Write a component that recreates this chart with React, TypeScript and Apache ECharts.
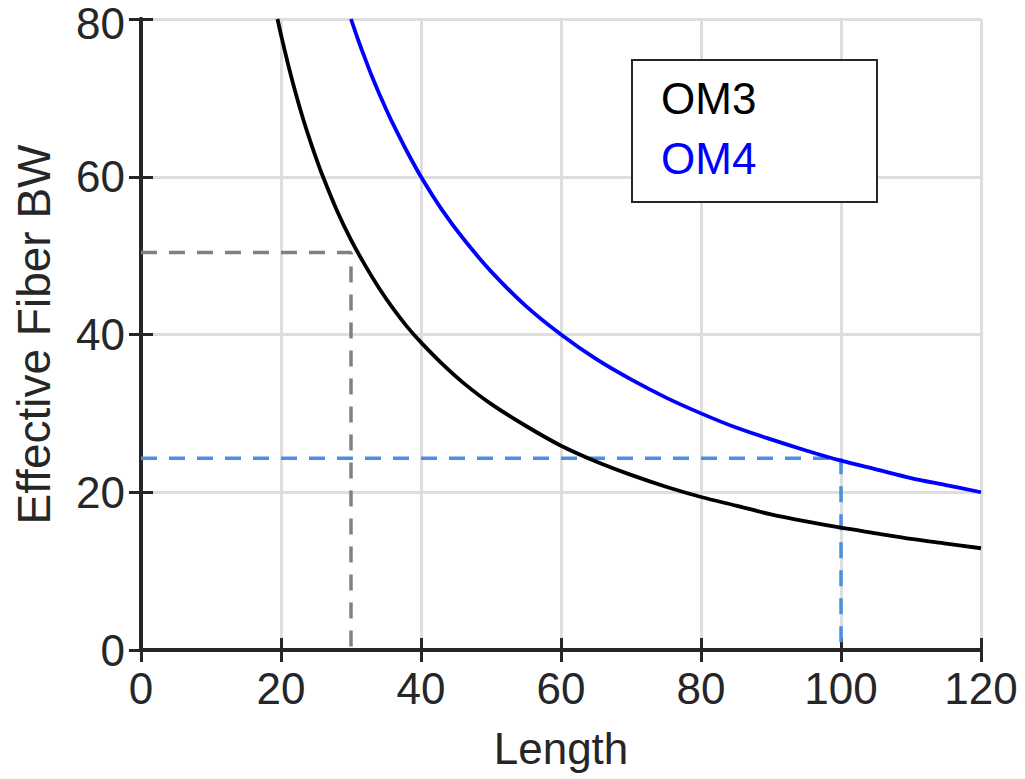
import React, { useEffect, useRef } from "react";
import * as echarts from "echarts";

const xTicks = [0, 20, 40, 60, 80, 100, 120];
const yTicks = [0, 20, 40, 60, 80];

const om3X = [19.5, 20, 21, 22, 23, 24, 25, 26, 28, 30, 32, 34, 36, 38, 40, 43, 46, 50, 55, 60, 65, 70, 75, 80, 85, 90, 95, 100, 105, 110, 115, 120];
const om3Y = [80, 78, 74.3, 70.9, 67.8, 65, 62.4, 60, 55.7, 52, 48.8, 45.9, 43.3, 41, 39, 36.3, 33.9, 31.2, 28.4, 25.9, 23.9, 22.2, 20.7, 19.4, 18.3, 17.2, 16.3, 15.5, 14.8, 14.1, 13.5, 12.9];

const om4X = [30, 31, 32, 33, 34, 35, 36, 38, 40, 43, 46, 50, 55, 60, 65, 70, 75, 80, 85, 90, 95, 100, 105, 110, 115, 120];
const om4Y = [80, 77.4, 75, 72.7, 70.6, 68.6, 66.7, 63.2, 60, 55.8, 52.2, 48, 43.6, 40, 36.9, 34.3, 32, 30, 28.2, 26.7, 25.3, 24, 22.9, 21.8, 20.9, 20];

const guideGrayX = [0, 30, 30];
const guideGrayY = [50.4, 50.4, 0];
const guideBlueX = [0, 100, 100];
const guideBlueY = [24.3, 24.3, 0];

const seriesNames = ["OM3", "OM4"];

const FONT = "'Liberation Sans', Arial, Helvetica, sans-serif";
const AX = "#262626";

const zip = (xs: number[], ys: number[]) => xs.map((x, i) => [x, ys[i]]);

export default function App() {
  const ref = useRef<HTMLDivElement>(null);
  useEffect(() => {
    document.body.style.margin = "0";
    if (!ref.current) return;
    const chart = echarts.init(ref.current, undefined, { renderer: "svg" });
    const axisCommon = {
      type: "value" as const,
      axisLine: { show: true, lineStyle: { color: AX, width: 4 } },
      axisTick: { show: true, inside: true, length: 12, lineStyle: { color: AX, width: 3 } },
    };
    const yMax = yTicks[yTicks.length - 1];
    chart.setOption({
      animation: false,
      backgroundColor: "#fff",
      textStyle: { fontFamily: FONT },
      grid: { left: 141, right: 44, top: 19, bottom: 129, containLabel: false, outerBoundsMode: "none" },
      xAxis: [
        {
          ...axisCommon,
          position: "bottom",
          min: xTicks[0],
          max: xTicks[xTicks.length - 1],
          interval: 20,
          axisLabel: { fontSize: 44, lineHeight: 36, color: AX, margin: 20, fontFamily: FONT },
          splitLine: { show: true, lineStyle: { color: "#dedede", width: 3 } },
          name: "Length",
          nameLocation: "middle",
          nameGap: 76,
          nameTextStyle: { fontSize: 44, color: AX, fontFamily: FONT },
        },
        {
          ...axisCommon,
          position: "top",
          min: xTicks[0],
          max: xTicks[xTicks.length - 1],
          interval: 20,
          axisLabel: { show: false },
          splitLine: { show: false },
        },
      ],
      yAxis: [
        {
          ...axisCommon,
          position: "left",
          min: yTicks[0],
          max: yMax,
          interval: 20,
          axisLabel: {
            fontSize: 44,
            lineHeight: 36,
            color: AX,
            margin: 16,
            fontFamily: FONT,
            formatter: (v: number) => (v === yMax ? `{top|${v}}` : `${v}`),
            rich: {
              top: { fontSize: 44, lineHeight: 36, color: AX, fontFamily: FONT, padding: [8, 0, 0, 0] },
            },
          },
          splitLine: { show: true, lineStyle: { color: "#dedede", width: 3 } },
          name: "Effective Fiber BW",
          nameLocation: "middle",
          nameGap: 84,
          nameTextStyle: { fontSize: 46, color: AX, fontFamily: FONT },
        },
        {
          ...axisCommon,
          position: "right",
          min: yTicks[0],
          max: yMax,
          interval: 20,
          axisLabel: { show: false },
          splitLine: { show: false },
        },
      ],
      legend: {
        orient: "vertical",
        left: 656,
        top: 74,
        padding: 0,
        icon: "none",
        itemWidth: 0,
        itemHeight: 48,
        itemGap: 12,
        selectedMode: false,
        data: [
          { name: seriesNames[0], textStyle: { color: "#000000" } },
          { name: seriesNames[1], textStyle: { color: "#0000ff" } },
        ],
        textStyle: { fontSize: 44, lineHeight: 48, fontFamily: FONT },
      },
      graphic: [
        {
          type: "rect",
          z: 3,
          shape: { x: 632, y: 60, width: 245, height: 142 },
          style: { fill: "#ffffff", stroke: AX, lineWidth: 2 },
        },
      ],
      series: [
        {
          type: "line",
          name: "guideGray",
          data: zip(guideGrayX, guideGrayY),
          symbol: "none",
          lineStyle: { color: "#808080", width: 3.5, type: [16, 12] },
          z: 2,
        },
        {
          type: "line",
          name: "guideBlue",
          data: zip(guideBlueX, guideBlueY),
          symbol: "none",
          lineStyle: { color: "#4a8fe0", width: 3.5, type: [16, 12] },
          z: 2,
        },
        {
          type: "line",
          name: seriesNames[0],
          data: zip(om3X, om3Y),
          symbol: "none",
          smooth: 0.3,
          lineStyle: { color: "#000000", width: 3.8 },
          z: 3,
        },
        {
          type: "line",
          name: seriesNames[1],
          data: zip(om4X, om4Y),
          symbol: "none",
          smooth: 0.3,
          lineStyle: { color: "#0000ff", width: 3.8 },
          z: 3,
        },
      ],
    });
    return () => chart.dispose();
  }, []);
  return <div ref={ref} style={{ width: 1025, height: 779 }} />;
}
